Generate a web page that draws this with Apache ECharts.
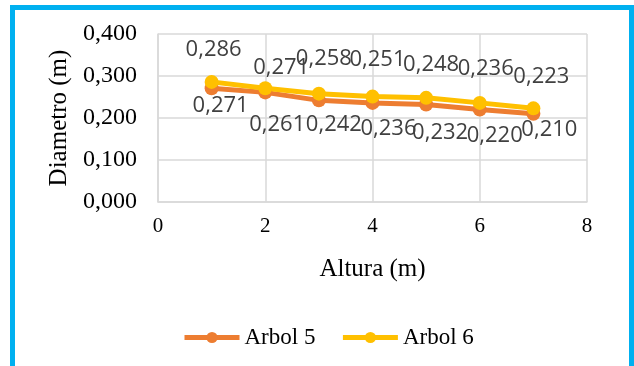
<!DOCTYPE html>
<html>
<head>
<meta charset="utf-8">
<script src="https://cdn.jsdelivr.net/npm/echarts@6/dist/echarts.min.js"></script>
<style>
  html, body { margin: 0; padding: 0; background: #fff; }
  #chart { width: 634px; height: 366px; }
</style>
</head>
<body>
<div id="chart"></div>
<script>
// Heights along the trunk (m) and measured diameters (m)
const alturas = [1, 2, 3, 4, 5, 6, 7];
const arbol5 = [0.271, 0.261, 0.242, 0.236, 0.232, 0.220, 0.210];
const arbol6 = [0.286, 0.271, 0.258, 0.251, 0.248, 0.236, 0.223];
const serieNombres = ['Arbol 5', 'Arbol 6'];
const xTicks = [0, 2, 4, 6, 8];
const yTicks = [0, 0.1, 0.2, 0.3, 0.4];

// Pixel nudges (from the marker centre) for the value labels so they do not collide
const offsets5 = [[9, 18], [12, 32], [15, 24], [16, 26], [14, 28], [15, 26], [16, 16]];
const offsets6 = [[2, -32], [16, -20], [5, -35], [5, -37], [5, -33], [6, -34], [8, -32]];

const SYMBOL = 14;
const fmt = v => v.toFixed(3).replace('.', ',');
const serif = '"Liberation Serif", "Times New Roman", serif';
const sans = '"Open Sans", "Liberation Sans", sans-serif';

function buildData(vals, offs) {
  return vals.map((v, i) => ({
    value: [alturas[i], v],
    label: { position: [SYMBOL / 2 + offs[i][0], SYMBOL / 2 + offs[i][1]] }
  }));
}

function lineSeries(name, vals, offs, color) {
  return {
    name: name,
    type: 'line',
    data: buildData(vals, offs),
    symbol: 'circle',
    symbolSize: SYMBOL,
    lineStyle: { color: color, width: 5 },
    itemStyle: { color: color },
    label: {
      show: true,
      align: 'center',
      verticalAlign: 'middle',
      formatter: p => fmt(p.value[1]),
      fontFamily: sans,
      fontSize: 22,
      color: '#404040'
    },
    labelLayout: { hideOverlap: false },
    z: 3
  };
}

const chart = echarts.init(document.getElementById('chart'), null, { renderer: 'canvas' });
chart.setOption({
  backgroundColor: '#fff',
  animation: false,
  graphic: [{
    type: 'rect',
    shape: { x: 12.5, y: 7.5, width: 619, height: 400 },
    style: { fill: 'none', stroke: '#00B0F0', lineWidth: 5 },
    silent: true
  }],
  grid: { left: 158, right: 47, top: 34, height: 168, containLabel: false },
  legend: {
    data: serieNombres,
    top: 326,
    left: 182,
    padding: 0,
    itemWidth: 55,
    itemHeight: 14,
    itemGap: 25,
    lineStyle: { width: 5 },
    textStyle: { fontFamily: serif, fontSize: 23, color: '#000' }
  },
  xAxis: {
    type: 'value',
    min: xTicks[0],
    max: xTicks[xTicks.length - 1],
    interval: xTicks[1] - xTicks[0],
    name: 'Altura (m)',
    nameLocation: 'middle',
    nameGap: 55,
    nameTextStyle: { fontFamily: serif, fontSize: 25, fontWeight: 'normal', color: '#000' },
    axisLine: { show: true, lineStyle: { color: '#d9d9d9', width: 1.5 } },
    axisTick: { show: false },
    axisLabel: { fontFamily: serif, fontSize: 21, color: '#000', margin: 14 },
    splitLine: { show: true, lineStyle: { color: '#d9d9d9', width: 1.5 } }
  },
  yAxis: {
    type: 'value',
    min: yTicks[0],
    max: yTicks[yTicks.length - 1],
    interval: yTicks[1] - yTicks[0],
    name: 'Diametro (m)',
    nameLocation: 'middle',
    nameGap: 84,
    nameTextStyle: { fontFamily: serif, fontSize: 25, fontWeight: 'normal', color: '#000' },
    axisLine: { show: true, lineStyle: { color: '#d9d9d9', width: 1.5 } },
    axisTick: { show: false },
    axisLabel: { fontFamily: serif, fontSize: 24, color: '#000', margin: 21, formatter: v => fmt(v) },
    splitLine: { show: true, lineStyle: { color: '#d9d9d9', width: 1.5 } }
  },
  series: [
    lineSeries(serieNombres[0], arbol5, offsets5, '#ED7D31'),
    lineSeries(serieNombres[1], arbol6, offsets6, '#FFC000')
  ]
});
</script>
</body>
</html>
